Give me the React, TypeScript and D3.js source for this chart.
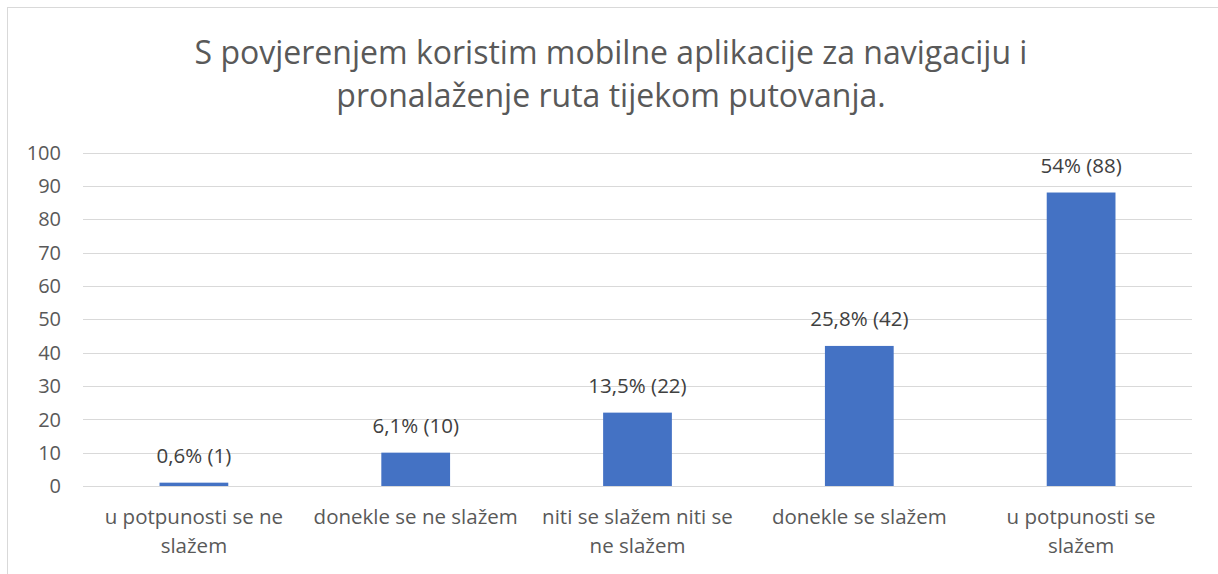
import React, { useEffect, useRef } from "react";
import * as d3 from "d3";

const titleLines = [
  "S povjerenjem koristim mobilne aplikacije za navigaciju i",
  "pronalaženje ruta tijekom putovanja.",
];
const categories = [
  "u potpunosti se ne\nslažem",
  "donekle se ne slažem",
  "niti se slažem niti se\nne slažem",
  "donekle se slažem",
  "u potpunosti se\nslažem",
];
const counts = [1, 10, 22, 42, 88];
const labels = ["0,6% (1)", "6,1% (10)", "13,5% (22)", "25,8% (42)", "54% (88)"];
const yTicks = [0, 10, 20, 30, 40, 50, 60, 70, 80, 90, 100];

const W = 1218;
const H = 574;
const FONT = "'Open Sans', 'Noto Sans', sans-serif";

export default function App() {
  const ref = useRef<SVGSVGElement | null>(null);

  useEffect(() => {
    const svg = d3.select(ref.current);
    svg.selectAll("*").remove();

    const left = 83, right = 1192, top = 152.5, bottom = 486;
    const x = d3.scaleBand<string>().domain(categories).range([left, right]).paddingInner(0.69).paddingOuter(0.345);
    const y = d3.scaleLinear().domain([0, 100]).range([bottom, top]);

    svg.append("rect").attr("x", 0).attr("y", 0).attr("width", W).attr("height", H).attr("fill", "#fff");
    svg.append("rect").attr("x", 7.5).attr("y", 7.5).attr("width", W + 10).attr("height", H + 10)
      .attr("fill", "none").attr("stroke", "#d9d9d9").attr("stroke-width", 1);

    const title = svg.append("text").attr("text-anchor", "middle").attr("fill", "#595959")
      .style("font-family", FONT).style("font-size", "32px");
    titleLines.forEach((l, i) => {
      title.append("tspan").attr("x", 611).attr("y", 64 + i * 43).text(l);
    });

    // gridlines
    svg.append("g").selectAll("line").data(yTicks).join("line")
      .attr("x1", left).attr("x2", right)
      .attr("y1", (d) => Math.round(y(d)) + 0.5).attr("y2", (d) => Math.round(y(d)) + 0.5)
      .attr("stroke", "#d9d9d9").attr("stroke-width", 1);

    // y tick labels
    svg.append("g").selectAll("text").data(yTicks).join("text")
      .attr("x", 61).attr("y", (d) => y(d)).attr("dy", "0.36em").attr("text-anchor", "end")
      .attr("fill", "#595959").style("font-family", FONT).style("font-size", "20px")
      .text((d) => String(d));

    // bars
    svg.append("g").selectAll("rect").data(counts).join("rect")
      .attr("x", (_d, i) => x(categories[i])!)
      .attr("width", x.bandwidth())
      .attr("y", (d) => y(d))
      .attr("height", (d) => y(0) - y(d))
      .attr("fill", "#4472c4");

    // data labels
    svg.append("g").selectAll("text").data(counts).join("text")
      .attr("x", (_d, i) => x(categories[i])! + x.bandwidth() / 2)
      .attr("y", (d) => y(d) - 20)
      .attr("text-anchor", "middle").attr("fill", "#404040")
      .style("font-family", FONT).style("font-size", "20.5px")
      .text((_d, i) => labels[i]);

    // category labels
    const g = svg.append("g");
    categories.forEach((c) => {
      const cx = x(c)! + x.bandwidth() / 2;
      const t = g.append("text").attr("text-anchor", "middle").attr("fill", "#595959")
        .style("font-family", FONT).style("font-size", "20.5px");
      c.split("\n").forEach((l, i) => {
        t.append("tspan").attr("x", cx).attr("y", 524 + i * 29).text(l);
      });
    });
  }, []);

  return (
    <svg ref={ref} width={W} height={H} style={{ position: "absolute", left: 0, top: 0 }} />
  );
}
